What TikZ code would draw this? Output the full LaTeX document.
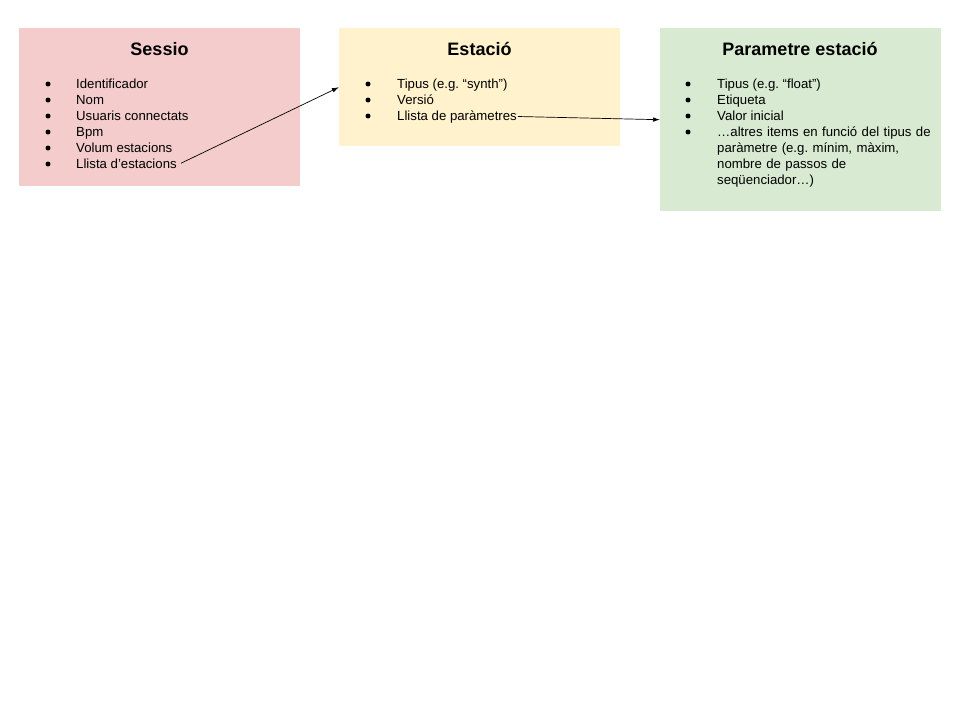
\documentclass[tikz,border=0pt]{standalone}
\usepackage{fontspec}
\setmainfont{Liberation Sans}
\usetikzlibrary{arrows.meta}
\definecolor{sessiofill}{HTML}{F4CCCC}
\definecolor{estaciofill}{HTML}{FFF2CC}
\definecolor{paramfill}{HTML}{D9EAD3}
\frenchspacing
\begin{document}
\begin{tikzpicture}[x=1pt, y=-1pt]
\tikzset{caixa/.style={anchor=north west, inner sep=0pt, minimum width=281pt},
  titol/.style={anchor=base, font=\fontsize{18}{21}\selectfont\bfseries},
  item/.style={anchor=base west, inner sep=0pt, font=\fontsize{13.2}{16}\selectfont},
  fletxa/.style={-{Latex[length=7pt, width=4.5pt]}, line width=0.7pt}}
\useasboundingbox (0,0) rectangle (960,720);
\node[caixa, fill=sessiofill, minimum height=158pt] (sessio) at (19,28) {};
\node[caixa, fill=estaciofill, minimum height=118pt] (estacio) at (339,28) {};
\node[caixa, fill=paramfill, minimum height=183pt] (param) at (660,28) {};
\node[titol] (T1) at (159.5,55) {Sessio};
\node[titol] (T2) at (479.5,55) {Estació};
\node[titol] (T3) at (800,55) {Parametre estació};
% sessio
\node[item] (S1) at (76,88) {Identificador};
\node[item] (S2) at (76,104) {Nom};
\node[item] (S3) at (76,120) {Usuaris connectats};
\node[item] (S4) at (76,136) {Bpm};
\node[item] (S5) at (76,152) {Volum estacions};
\node[item] (S6) at (76,168) {Llista d’estacions};
% estacio
\node[item] (E1) at (397,88) {Tipus (e.g. “synth”)};
\node[item] (E2) at (397,104) {Versió};
\node[item] (E3) at (397,120) {Llista de paràmetres};
% parametre
\node[item] (P1) at (717,88) {Tipus (e.g. “float”)};
\node[item] (P2) at (717,104) {Etiqueta};
\node[item] (P3) at (717,120) {Valor inicial};
\node[item, text width=225pt, align=left] (P4) at (717,136) {…altres items en funció del tipus de\\paràmetre (e.g. mínim, màxim,\\nombre de passos de\\seqüenciador…)};
\foreach \y in {84,100,...,164} \fill (48,\y) circle (2.5pt);
\foreach \y in {84,100,116} \fill (368,\y) circle (2.5pt);
\foreach \y in {84,100,116,132} \fill (688,\y) circle (2.5pt);
\draw[fletxa] ([xshift=4pt]S6.east) -- (estacio.west);
\draw[fletxa] ([xshift=1pt]E3.east) -- (param.west);
\end{tikzpicture}
\end{document}
